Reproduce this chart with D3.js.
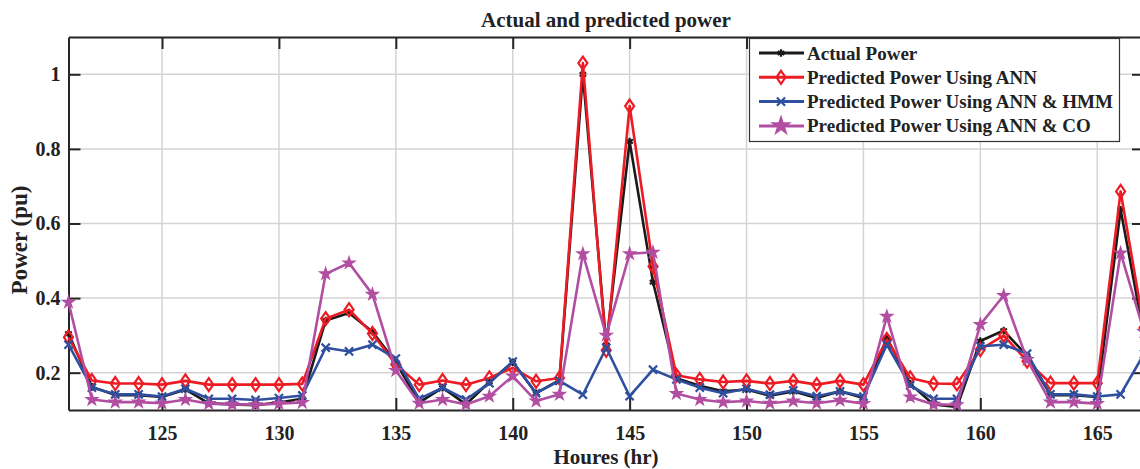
<!DOCTYPE html>
<html>
<head>
<meta charset="utf-8">
<script src="https://cdn.jsdelivr.net/npm/d3@7"></script>
<style>
  body { margin: 0; background: white; }
  text { font-family: "Liberation Serif", "Times New Roman", serif; font-weight: bold; fill: #222; }
</style>
</head>
<body>
<div id="container"></div>
<script>
let w = 1140;
let h = 469;

// hours on the x axis
let hours = d3.range(121, 168);

let actualPower = [0.305, 0.162, 0.14, 0.14, 0.135, 0.155, 0.118, 0.115, 0.113, 0.12, 0.13,
  0.34, 0.36, 0.31, 0.228, 0.12, 0.16, 0.115, 0.175, 0.228, 0.145, 0.18, 1.0, 0.275, 0.82,
  0.443, 0.185, 0.165, 0.15, 0.155, 0.138, 0.15, 0.132, 0.15, 0.132, 0.294, 0.17, 0.115,
  0.108, 0.285, 0.313, 0.245, 0.14, 0.14, 0.135, 0.637, 0.30];

let annPower = [0.295, 0.179, 0.171, 0.171, 0.168, 0.178, 0.168, 0.168, 0.168, 0.168, 0.17,
  0.345, 0.369, 0.305, 0.222, 0.168, 0.179, 0.168, 0.186, 0.213, 0.177, 0.186, 1.03, 0.26, 0.915,
  0.485, 0.193, 0.182, 0.175, 0.178, 0.171, 0.178, 0.168, 0.178, 0.168, 0.289, 0.186, 0.171,
  0.17, 0.262, 0.3, 0.231, 0.172, 0.172, 0.172, 0.686, 0.32];

let hmmPower = [0.275, 0.16, 0.142, 0.142, 0.136, 0.157, 0.13, 0.13, 0.127, 0.132, 0.139,
  0.267, 0.257, 0.275, 0.238, 0.13, 0.16, 0.128, 0.172, 0.23, 0.145, 0.178, 0.141, 0.267, 0.137,
  0.208, 0.182, 0.16, 0.145, 0.157, 0.141, 0.153, 0.137, 0.15, 0.136, 0.275, 0.166, 0.13,
  0.13, 0.271, 0.275, 0.251, 0.142, 0.142, 0.136, 0.142, 0.25];

let coPower = [0.389, 0.128, 0.121, 0.121, 0.118, 0.128, 0.117, 0.115, 0.114, 0.117, 0.12,
  0.465, 0.494, 0.41, 0.206, 0.118, 0.128, 0.115, 0.137, 0.191, 0.124, 0.142, 0.519, 0.3, 0.519,
  0.523, 0.144, 0.128, 0.121, 0.124, 0.118, 0.124, 0.118, 0.126, 0.117, 0.351, 0.135, 0.115,
  0.114, 0.329, 0.407, 0.235, 0.121, 0.121, 0.117, 0.521, 0.31];

let seriesNames = ["Actual Power", "Predicted Power Using ANN",
  "Predicted Power Using ANN & HMM", "Predicted Power Using ANN & CO"];

let xTicks = [125, 130, 135, 140, 145, 150, 155, 160, 165];
let yTicks = [0.2, 0.4, 0.6, 0.8, 1];

let series = [
  { name: seriesNames[0], values: actualPower, color: "#1a1a1a", marker: "asterisk" },
  { name: seriesNames[1], values: annPower, color: "#ed1c24", marker: "diamond" },
  { name: seriesNames[2], values: hmmPower, color: "#2f4f9f", marker: "times" },
  { name: seriesNames[3], values: coPower, color: "#b24ea2", marker: "star" }
];

let viz = d3.select("#container").append("svg")
  .attr("width", w)
  .attr("height", h)
  .style("background-color", "white");

let plotLeft = 68.5, plotRight = 1144, plotTop = 37, plotBottom = 410;

let xScale = d3.scaleLinear().domain([121, 167]).range([plotLeft, plotRight]);
let yScale = d3.scaleLinear().domain([0.1, 1.1]).range([plotBottom, plotTop]);

// grid
let grid = viz.append("g");
grid.selectAll(".vg").data(xTicks).enter().append("line")
  .attr("x1", d => xScale(d)).attr("x2", d => xScale(d))
  .attr("y1", plotTop).attr("y2", plotBottom)
  .attr("stroke", "#d4d4d4").attr("stroke-width", 1.5);
grid.selectAll(".hg").data(yTicks).enter().append("line")
  .attr("y1", d => yScale(d)).attr("y2", d => yScale(d))
  .attr("x1", plotLeft).attr("x2", plotRight)
  .attr("stroke", "#d4d4d4").attr("stroke-width", 1.5);

// axes with inward ticks
let tickLen = 12;
let xAxis = d3.axisBottom(xScale).tickValues(xTicks).tickSizeInner(-tickLen).tickSizeOuter(0).tickPadding(16);
let xAxisGroup = viz.append("g").attr("transform", "translate(0," + plotBottom + ")").call(xAxis);
let xTop = d3.axisTop(xScale).tickValues(xTicks).tickSizeInner(-tickLen).tickSizeOuter(0).tickFormat("");
let xTopGroup = viz.append("g").attr("transform", "translate(0," + plotTop + ")").call(xTop);
let yAxis = d3.axisLeft(yScale).tickValues(yTicks).tickSizeInner(-tickLen).tickSizeOuter(0).tickPadding(8)
  .tickFormat(d => d === 1 ? "1" : d3.format(".1f")(d));
let yAxisGroup = viz.append("g").attr("transform", "translate(" + plotLeft + ",0)").call(yAxis);
let yRight = d3.axisRight(yScale).tickValues(yTicks).tickSizeInner(-tickLen).tickSizeOuter(0).tickFormat("");
let yRightGroup = viz.append("g").attr("transform", "translate(" + plotRight + ",0)").call(yRight);

[xAxisGroup, xTopGroup, yAxisGroup, yRightGroup].forEach(g => {
  g.select(".domain").attr("stroke", "#262626").attr("stroke-width", 2);
  g.selectAll(".tick line").attr("stroke", "#262626").attr("stroke-width", 2);
  g.selectAll(".tick text").style("font-family", "Liberation Serif").style("font-weight", "bold")
    .style("font-size", "20px").attr("fill", "#222");
});

// markers
function markerPath(type, big) {
  if (type === "asterisk") return d3.symbol(d3.symbolAsterisk, 40)();
  if (type === "times") return d3.symbol(d3.symbolTimes, 45)();
  if (type === "star") return d3.symbol(d3.symbolStar, big ? 70 : 38)();
  return "M0,-6.5L4.5,0L0,6.5L-4.5,0Z";
}

let line = d3.line().x((d, i) => xScale(hours[i])).y(d => yScale(d));

let plot = viz.append("g");
series.forEach(s => {
  let g = plot.append("g");
  g.append("path").datum(s.values)
    .attr("d", line)
    .attr("fill", "none")
    .attr("stroke", s.color)
    .attr("stroke-width", 2.6)
    .attr("stroke-linejoin", "round");
  g.selectAll("path.m").data(s.values).enter().append("path")
    .attr("class", "m")
    .attr("transform", (d, i) => "translate(" + xScale(hours[i]) + "," + yScale(d) + ")")
    .attr("d", markerPath(s.marker, false))
    .attr("fill", s.marker === "star" ? s.color : "none")
    .attr("stroke", s.color)
    .attr("stroke-width", s.marker === "star" ? 1.5 : 2.2);
});

// title and labels
viz.append("text").attr("x", 606).attr("y", 27).attr("text-anchor", "middle")
  .style("font-size", "21px").text("Actual and predicted power");
viz.append("text").attr("x", 606).attr("y", 464).attr("text-anchor", "middle")
  .style("font-size", "21px").text("Houres (hr)");
viz.append("text").attr("transform", "translate(27,240) rotate(-90)").attr("text-anchor", "middle")
  .style("font-size", "23px").text("Power (pu)");

// legend
let legend = viz.append("g");
legend.append("rect").attr("x", 749.5).attr("y", 38.5).attr("width", 370).attr("height", 103)
  .attr("fill", "white").attr("stroke", "#333").attr("stroke-width", 1.2);
series.forEach((s, i) => {
  let ly = 53 + i * 24.3;
  legend.append("line").attr("x1", 759).attr("x2", 804).attr("y1", ly).attr("y2", ly)
    .attr("stroke", s.color).attr("stroke-width", 3);
  legend.append("path").attr("transform", "translate(781," + ly + ")")
    .attr("d", markerPath(s.marker, true))
    .attr("fill", s.marker === "star" ? s.color : "none")
    .attr("stroke", s.color).attr("stroke-width", 2.2);
  legend.append("text").attr("x", 807).attr("y", ly + 6.5)
    .style("font-size", "19px").text(s.name);
});
</script>
</body>
</html>
